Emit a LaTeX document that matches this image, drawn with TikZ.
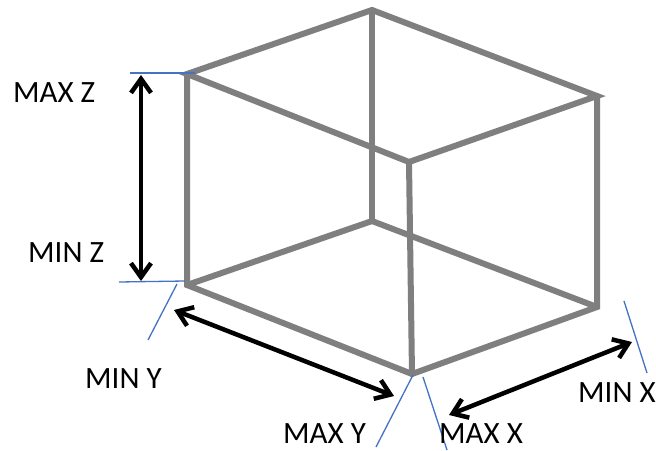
\documentclass[tikz,border=0pt]{standalone}
\usepackage{fontspec}
\setmainfont{Carlito}
\usetikzlibrary{arrows.meta}
\definecolor{boxgray}{RGB}{127,127,127}
\definecolor{guide}{RGB}{68,114,196}
\tikzset{
 boxedge/.style={draw=boxgray,line width=6pt,line cap=round,line join=miter},
 guideline/.style={draw=guide,line width=1.3pt},
 dimarrow/.style={draw=black,line width=4.5pt,{Straight Barb[length=14pt,width=20pt,line width=4.5pt]}-{Straight Barb[length=14pt,width=20pt,line width=4.5pt]}},
 lab/.style={inner sep=0pt,font=\fontsize{31pt}{34pt}\selectfont,text=black}
}
\begin{document}
\begin{tikzpicture}[x=1pt,y=-1pt]
\useasboundingbox (0,0) rectangle (656,450);
\fill[white] (0,0) rectangle (656,450);
% vertices
\coordinate (tl) at (187,74);
\coordinate (tb) at (372,10);
\coordinate (tr) at (597,96);
\coordinate (tf) at (409,162);
\coordinate (bl) at (187,285);
\coordinate (bb) at (372,221);
\coordinate (br) at (597,307);
\coordinate (bf) at (412,374);
% guide ends
\coordinate (gza) at (130,73); \coordinate (gzb) at (195,73);
\coordinate (gzc) at (119,282); \coordinate (gzd) at (185,281);
\coordinate (gya) at (177,284); \coordinate (gyb) at (148,340);
\coordinate (gyc) at (413,375); \coordinate (gyd) at (376,447);
\coordinate (gxa) at (423,377); \coordinate (gxb) at (447,450);
\coordinate (gxc) at (624,301); \coordinate (gxd) at (647,373);
% arrow ends
\coordinate (za) at (141,75); \coordinate (zb) at (141,281);
\coordinate (ya) at (174,310); \coordinate (yb) at (394,396);
\coordinate (xa) at (449,415); \coordinate (xb) at (632,342);
% box
\draw[boxedge] (tb) -- (bb);
\draw[boxedge] (bl) -- (bb) -- (br);
\draw[boxedge] (tl) -- (tb) -- (tr) -- (tf) -- cycle;
\draw[boxedge] (tl) -- (bl) -- (bf) -- (br) -- (tr);
\draw[boxedge] (tf) -- (bf);
% guides
\draw[guideline] (gza) -- (gzb);
\draw[guideline] (gzc) -- (gzd);
\draw[guideline] (gya) -- (gyb);
\draw[guideline] (gyc) -- (gyd);
\draw[guideline] (gxa) -- (gxb);
\draw[guideline] (gxc) -- (gxd);
% arrows
\draw[dimarrow] (za) -- (zb);
\draw[dimarrow] (ya) -- (yb);
\draw[dimarrow] (xa) -- (xb);
% labels
\node[lab,anchor=west] (maxz) at (13,93) {MAX Z};
\node[lab,anchor=west] (minz) at (28,253) {MIN Z};
\node[lab,anchor=west] (miny) at (85,379) {MIN Y};
\node[lab,anchor=west] (maxy) at (283,434) {MAX Y};
\node[lab,anchor=west] (maxx) at (439,434) {MAX X};
\node[lab,anchor=west] (minx) at (578,393) {MIN X};
\end{tikzpicture}
\end{document}
